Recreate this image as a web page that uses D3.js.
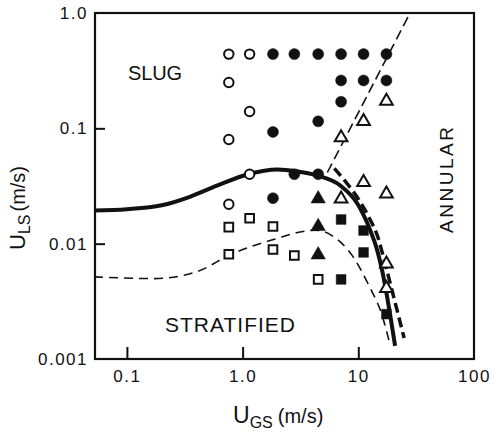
<!DOCTYPE html>
<html>
<head>
<meta charset="utf-8">
<script src="https://cdn.jsdelivr.net/npm/d3@7"></script>
<style>
  body { margin: 0; background: #fff; }
  svg { display: block; font-family: "Liberation Sans", Arial, sans-serif; }
  .tick text { font-size: 17px; letter-spacing: 1.5px; fill: #111; }
  .tick line { stroke: #111; stroke-width: 2; }
</style>
</head>
<body>
<svg class="flow_chart"></svg>
<script>
var width = 495,
    height = 435;

// axis ticks
var xTicks = [0.1, 1, 10, 100],
    xTickLabels = ["0.1", "1.0", "10", "100"],
    yTicks = [0.001, 0.01, 0.1, 1],
    yTickLabels = ["0.001", "0.01", "0.1", "1.0"];

// observed points, [U_GS, U_LS] in m/s
var slugOpen = [[0.76, 0.44], [1.15, 0.44], [0.76, 0.25], [1.15, 0.14], [0.76, 0.08], [1.15, 0.04], [0.76, 0.022]];
var slugFilled = [[1.83, 0.44], [2.8, 0.44], [4.5, 0.44], [7.1, 0.44], [11.1, 0.44], [17.5, 0.44],
    [7.1, 0.26], [11.1, 0.26], [17.5, 0.26], [7.1, 0.17], [4.5, 0.115], [1.83, 0.093],
    [2.8, 0.04], [4.5, 0.04], [1.83, 0.0248]];
var annularOpen = [[17.5, 0.172], [11.1, 0.115], [7.1, 0.083], [11.1, 0.034], [17.5, 0.027],
    [7.1, 0.0245], [17.5, 0.0067], [17.5, 0.0041]];
var annularFilled = [[4.5, 0.0245], [4.5, 0.0141], [4.5, 0.008]];
var stratOpen = [[0.76, 0.0139], [1.15, 0.0166], [1.83, 0.0141], [0.76, 0.0081], [1.83, 0.0089],
    [2.8, 0.0079], [4.5, 0.0049]];
var stratFilled = [[7.1, 0.0162], [11.1, 0.013], [11.1, 0.0084], [7.1, 0.0049], [17.5, 0.00245]];

// transition boundaries
var solidCurve = [[0.052, 0.0194], [0.1, 0.0199], [0.2, 0.0215], [0.35, 0.0255], [0.6, 0.0318],
    [1.1, 0.0398], [2.0, 0.044], [2.9, 0.0425], [4.4, 0.039], [7.0, 0.0319], [9.8, 0.0223],
    [12.4, 0.0138], [14.6, 0.0087], [16.1, 0.0058], [20.8, 0.0013]];
var thickDashCurve = [[6.2, 0.0449], [8.0, 0.0332], [10.2, 0.0237], [12.4, 0.0168], [14.8, 0.0113],
    [16.8, 0.0071], [19.8, 0.00375], [24.9, 0.00152]];
var thinDashCurve = [[0.052, 0.00516], [0.17, 0.00498], [0.4, 0.0057], [0.79, 0.00805], [1.2, 0.0095],
    [1.92, 0.011], [2.98, 0.0125], [4.26, 0.0131], [5.97, 0.0117], [8.87, 0.00787], [12.4, 0.0043],
    [16.1, 0.00237], [18.9, 0.0013]];
var slugAnnularLine = [[5.4, 0.0414], [28, 1.0]];

var chart = d3.select(".flow_chart")
    .attr("width", width)
    .attr("height", height);

var x = d3.scaleLog()
    .domain([0.053, 100])
    .range([95, 474]);

var y = d3.scaleLog()
    .domain([0.001, 1])
    .range([359, 13]);

// axes with inward ticks
var xAxis = d3.axisBottom(x)
    .tickValues(xTicks)
    .tickFormat(function (d, i) { return xTickLabels[i]; })
    .tickSizeInner(-12)
    .tickSizeOuter(0)
    .tickPadding(11);

var gx = chart.append("g")
    .attr("transform", "translate(0," + y(0.001) + ")")
    .call(xAxis);
gx.select(".domain").remove();
gx.selectAll(".tick line").filter(function (d) { return d == 100; }).remove();

var yAxis = d3.axisLeft(y)
    .tickValues(yTicks)
    .tickFormat(function (d, i) { return yTickLabels[i]; })
    .tickSizeInner(-10)
    .tickSizeOuter(0)
    .tickPadding(7);

var gy = chart.append("g")
    .attr("transform", "translate(" + x(0.053) + ",0)")
    .call(yAxis);
gy.select(".domain").remove();
gy.selectAll(".tick line").filter(function (d) { return d == 1 || d == 0.001; }).remove();

// frame
chart.append("rect")
    .attr("x", x(0.053))
    .attr("y", y(1))
    .attr("width", x(100) - x(0.053))
    .attr("height", y(0.001) - y(1))
    .style("fill", "none")
    .style("stroke", "#111")
    .style("stroke-width", 2.2);

var line = d3.line()
    .x(function (d) { return x(d[0]); })
    .y(function (d) { return y(d[1]); })
    .curve(d3.curveMonotoneX);

chart.append("path")
    .attr("d", line(thinDashCurve))
    .style("fill", "none")
    .style("stroke", "#111")
    .style("stroke-width", 1.6)
    .style("stroke-dasharray", "9,6");

chart.append("path")
    .attr("d", line(slugAnnularLine))
    .style("fill", "none")
    .style("stroke", "#111")
    .style("stroke-width", 1.6)
    .style("stroke-dasharray", "10,5");

chart.append("path")
    .attr("d", line(thickDashCurve))
    .style("fill", "none")
    .style("stroke", "#111")
    .style("stroke-width", 3.5)
    .style("stroke-dasharray", "10,5");

chart.append("path")
    .attr("d", line(solidCurve))
    .style("fill", "none")
    .style("stroke", "#111")
    .style("stroke-width", 4);

// markers
function drawMarks(data, symbol, size, filled) {
    chart.selectAll(null)
        .data(data)
        .enter()
        .append("path")
        .attr("d", d3.symbol().type(symbol).size(size))
        .attr("transform", function (d) {
            return "translate(" + x(d[0]) + "," + y(d[1]) + ")";
        })
        .style("fill", filled ? "#111" : "#fff")
        .style("stroke", "#111")
        .style("stroke-width", filled ? 0.5 : 2);
}

drawMarks(slugOpen, d3.symbolCircle, 70, false);
drawMarks(slugFilled, d3.symbolCircle, 95, true);
drawMarks(annularOpen, d3.symbolTriangle, 70, false);
drawMarks(annularFilled, d3.symbolTriangle, 90, true);
drawMarks(stratOpen, d3.symbolSquare, 75, false);
drawMarks(stratFilled, d3.symbolSquare, 95, true);

// region labels
chart.append("text")
    .attr("x", 128)
    .attr("y", 80)
    .attr("textLength", 54)
    .style("font-size", "20px")
    .style("fill", "#111")
    .text("SLUG");

chart.append("text")
    .attr("x", 165)
    .attr("y", 332)
    .attr("textLength", 130)
    .attr("lengthAdjust", "spacing")
    .style("font-size", "21px")
    .style("fill", "#111")
    .text("STRATIFIED");

chart.append("text")
    .attr("transform", "translate(453,233) rotate(-90)")
    .attr("textLength", 106)
    .attr("lengthAdjust", "spacing")
    .style("font-size", "19px")
    .style("fill", "#111")
    .text("ANNULAR");

// axis titles
var xt = chart.append("text")
    .attr("x", 233)
    .attr("y", 423)
    .style("fill", "#111");
xt.append("tspan").style("font-size", "23px").text("U");
xt.append("tspan").attr("dy", 5).style("font-size", "16px").text("GS");
xt.append("tspan").attr("dy", -5).attr("dx", 5).style("font-size", "20px").text("(m/s)");

var yt = chart.append("text")
    .attr("transform", "translate(25,250) rotate(-90)")
    .style("fill", "#111");
yt.append("tspan").style("font-size", "22px").text("U");
yt.append("tspan").attr("dy", 5).style("font-size", "16px").text("LS");
yt.append("tspan").attr("dy", -5).attr("dx", 3).style("font-size", "20px").text("(m/s)");
</script>
</body>
</html>
